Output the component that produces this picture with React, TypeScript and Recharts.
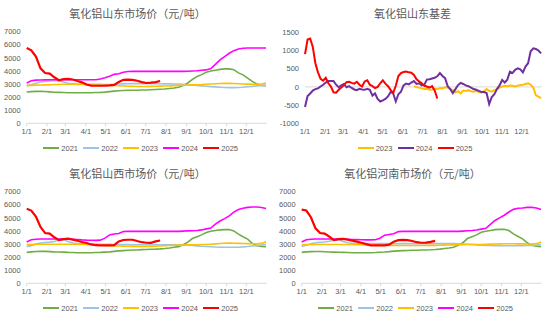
import { LineChart, Line, XAxis, YAxis, ReferenceLine } from 'recharts'

// day-of-year grid (weekly) for the price panels
const priceDays = [
  0, 7, 14, 21, 28, 35, 42, 49, 56, 63, 70, 77, 84, 91, 98, 105, 112, 119, 126, 133,
  140, 147, 154, 161, 168, 175, 182, 189, 196, 203, 210, 217, 224, 231, 238, 245, 252,
  259, 266, 273, 280, 287, 294, 301, 308, 315, 322, 329, 336, 343, 350, 357, 364,
]

// 4-day grid for the basis panel
const basisDays = [
  0, 4, 8, 12, 16, 20, 24, 28, 32, 36, 40, 44, 48, 52, 56, 60, 64, 68, 72, 76, 80, 84, 88,
  92, 96, 100, 104, 108, 112, 116, 120, 124, 128, 132, 136, 140, 144, 148, 152, 156, 160,
  164, 168, 172, 176, 180, 184, 188, 192, 196, 200, 204, 208, 212, 216, 220, 224, 228,
  232, 236, 240, 244, 248, 252, 256, 260, 264, 268, 272, 276, 280, 284, 288, 292, 296,
  300, 304, 308, 312, 316, 320, 324, 328, 332, 336, 340, 344, 348, 352, 356, 360, 364,
]

const monthTicks = [0, 31, 59, 90, 120, 151, 181, 212, 243, 273, 304, 334]
const monthLabels = ['1/1', '2/1', '3/1', '4/1', '5/1', '6/1', '7/1', '8/1', '9/1', '10/1', '11/1', '12/1']

const priceTicks = [0, 1000, 2000, 3000, 4000, 5000, 6000, 7000]
const basisTicks = [-1000, -500, 0, 500, 1000, 1500]

// 山东
const sd2021 = [
  2390, 2420, 2440, 2440, 2430, 2400, 2370, 2360, 2350, 2340,
  2340, 2330, 2330, 2330, 2340, 2350, 2360, 2380, 2420, 2460,
  2490, 2510, 2520, 2530, 2530, 2540, 2540, 2560, 2580, 2600,
  2620, 2660, 2700, 2750, 2880, 3080, 3350, 3580, 3720, 3900,
  4000, 4060, 4120, 4160, 4160, 4100, 3850, 3700, 3450, 3200,
  3000, 2900, 2880,
]
const sd2022 = [
  2880, 2950, 3060, 3150, 3200, 3240, 3260, 3260, 3150, 3060,
  3030, 3000, 2990, 2980, 2980, 2980, 2980, 2970, 2970, 2980,
  3000, 3010, 3020, 3030, 3030, 3030, 3030, 3030, 3020, 3020,
  3010, 3010, 3000, 3000, 2980, 2950, 2920, 2890, 2860, 2830,
  2800, 2780, 2760, 2740, 2730, 2730, 2740, 2760, 2790, 2820,
  2860, 2900, 2900,
]
const sd2023 = [
  2900, 2900, 2920, 2930, 2940, 2950, 2960, 2970, 2980, 2980,
  2980, 2970, 2960, 2950, 2940, 2930, 2920, 2910, 2900, 2890,
  2870, 2850, 2830, 2820, 2810, 2810, 2810, 2820, 2830, 2840,
  2850, 2860, 2880, 2900, 2910, 2930, 2940, 2950, 2960, 2980,
  3000, 3020, 3040, 3050, 3050, 3040, 3020, 3000, 2990, 2980,
  2980, 3000, 3080,
]
const sd2024 = [
  3080, 3250, 3300, 3310, 3320, 3330, 3330, 3330, 3330, 3330,
  3330, 3330, 3330, 3330, 3330, 3330, 3380, 3480, 3600, 3740,
  3780, 3900, 3960, 3970, 3970, 3970, 3970, 3970, 3970, 3970,
  3970, 3970, 3970, 3970, 3970, 3980, 4000, 4020, 4050, 4080,
  4180, 4500, 4850, 5100, 5350, 5550, 5680, 5740, 5750, 5750,
  5750, 5750, 5750,
]
const sd2025 = [
  5750, 5580, 5100, 4200, 3840, 3800, 3520, 3290, 3380, 3400,
  3350, 3230, 3130, 2960, 2880, 2870, 2870, 2880, 2900, 2940,
  3150, 3320, 3330, 3320, 3250, 3150, 3080, 3110, 3150, 3230,
]

// 山西
const sx2021 = [
  2360, 2400, 2430, 2440, 2440, 2420, 2400, 2390, 2380, 2360,
  2350, 2340, 2340, 2340, 2340, 2350, 2360, 2380, 2400, 2440,
  2480, 2500, 2520, 2540, 2550, 2570, 2580, 2600, 2610, 2630,
  2660, 2700, 2750, 2800, 2950, 3150, 3420, 3560, 3700, 3880,
  3980, 4040, 4080, 4100, 4110, 4000, 3760, 3560, 3380, 3060,
  2880, 2820, 2800,
]
const sx2022 = [
  2820, 2880, 3000, 3080, 3120, 3150, 3200, 3300, 3320, 3200,
  3080, 3040, 3020, 3000, 2990, 2990, 2980, 2980, 2980, 2970,
  2970, 2960, 2960, 2950, 2950, 2950, 2950, 2950, 2950, 2950,
  2950, 2950, 2950, 2950, 2940, 2920, 2890, 2860, 2830, 2810,
  2790, 2770, 2760, 2750, 2750, 2750, 2760, 2780, 2810, 2850,
  2880, 2920, 2980,
]
const sx2023 = [
  2960, 2970, 2980, 2980, 2980, 2980, 2980, 2980, 2980, 2980,
  2980, 2980, 2970, 2960, 2950, 2940, 2930, 2900, 2880, 2860,
  2850, 2840, 2830, 2820, 2810, 2810, 2810, 2820, 2830, 2850,
  2870, 2890, 2910, 2920, 2930, 2940, 2950, 2950, 2960, 2970,
  2990, 3010, 3040, 3060, 3070, 3060, 3050, 3040, 3030, 3020,
  3010, 3050, 3180,
]
const sx2024 = [
  3150, 3330, 3370, 3380, 3380, 3380, 3380, 3380, 3380, 3380,
  3370, 3350, 3320, 3300, 3290, 3280, 3300, 3450, 3700, 3770,
  3800, 3960, 3970, 3970, 3970, 3970, 3970, 3970, 3970, 3970,
  3970, 3970, 3970, 3970, 3990, 4010, 4020, 4030, 4080, 4160,
  4220, 4520, 4760, 4940, 5150, 5440, 5640, 5740, 5800, 5830,
  5830, 5790, 5710,
]
const sx2025 = [
  5700, 5560, 5100, 4300, 3840, 3800, 3520, 3300, 3380, 3410,
  3340, 3250, 3160, 3080, 2970, 2910, 2900, 2900, 2900, 2910,
  3200, 3310, 3330, 3330, 3230, 3140, 3100, 3090, 3200, 3270,
]

// 河南
const hn2021 = [
  2360, 2400, 2420, 2430, 2430, 2410, 2390, 2380, 2370, 2360,
  2350, 2340, 2330, 2330, 2330, 2340, 2350, 2370, 2390, 2420,
  2460, 2480, 2500, 2510, 2520, 2530, 2540, 2550, 2560, 2580,
  2610, 2660, 2700, 2760, 2900, 3100, 3420, 3560, 3700, 3900,
  3980, 4040, 4100, 4120, 4130, 4030, 3780, 3580, 3400, 3100,
  2900, 2840, 2800,
]
const hn2022 = [
  2820, 2900, 3020, 3100, 3130, 3160, 3220, 3300, 3320, 3200,
  3100, 3060, 3050, 3040, 3040, 3030, 3030, 3030, 3030, 3030,
  3030, 3030, 3030, 3030, 3030, 3030, 3030, 3030, 3030, 3030,
  3030, 3030, 3030, 3030, 3020, 3000, 2980, 2960, 2940, 2920,
  2900, 2890, 2880, 2870, 2870, 2870, 2870, 2880, 2880, 2890,
  2900, 2930, 2980,
]
const hn2023 = [
  2950, 2960, 2970, 2970, 2970, 2970, 2970, 2970, 2970, 2970,
  2970, 2960, 2950, 2950, 2940, 2940, 2930, 2920, 2910, 2900,
  2900, 2890, 2890, 2890, 2890, 2890, 2890, 2890, 2900, 2900,
  2910, 2920, 2930, 2940, 2950, 2950, 2960, 2960, 2970, 2970,
  2980, 2990, 3000, 3010, 3020, 3020, 3020, 3010, 3010, 3000,
  3000, 3030, 3150,
]
const hn2024 = [
  3150, 3330, 3370, 3380, 3380, 3380, 3380, 3380, 3380, 3380,
  3370, 3350, 3340, 3330, 3320, 3320, 3330, 3450, 3680, 3730,
  3780, 3950, 3970, 3970, 3970, 3970, 3970, 3970, 3970, 3970,
  3970, 3970, 3970, 3970, 3970, 3990, 4010, 4030, 4070, 4140,
  4200, 4500, 4800, 5000, 5200, 5450, 5650, 5730, 5760, 5800,
  5800, 5760, 5640,
]
const hn2025 = [
  5630, 5560, 5050, 4200, 3840, 3800, 3560, 3300, 3370, 3400,
  3340, 3260, 3180, 3100, 2990, 2900, 2900, 2900, 2900, 2950,
  3180, 3300, 3320, 3300, 3230, 3140, 3100, 3110, 3170, 3240,
]

// 山东基差
const basis2023Start = 168
const basis2023 = [
  20, -10, -20, -40, -60, -50, -80, -70, -50, -60,
  -30, -40, -10, -20, -60, -90, -150, -120, -180, -100,
  -110, -90, -120, -130, -110, -140, -160, -120, -60, -110,
  -130, -90, -60, -20, 10, 30, 20, 40, 30, 10,
  30, 50, 60, 80, 100, 60, -20, -230, -270, -310,
]
const basis2024 = [
  -550, -250, -180, -100, -60, -40, 10, 60, 120, 160,
  160, 160, 60, -10, 40, 80, -10, 20, -30, -70,
  -90, -50, -70, -80, -50, -80, -240, -180, -330, -400,
  -370, -330, -260, -140, -180, -400, -200, -130, 40, 90,
  70, 120, 160, 80, 100, 40, 60, 200, 210, 230,
  250, 290, 380, 300, 240, 20, -60, -170, -60, 50,
  110, 80, 40, 20, -20, -60, -80, -110, -140, -140,
  -170, -470, -280, -200, -60, 40, 190, 120, 200, 420,
  380, 470, 510, 480, 400, 560, 650, 980, 1060, 1040,
  1000, 920,
]
const basis2025 = [
  900, 1300, 1330, 1100, 650, 400, 220, 170, 250, 100,
  10, -150, -160, -80, -20, 50, 130, 140, 110, 90,
  140, 60, 10, 150, 180, 60, 20, -30, 0, 100,
  180, 90, 20, -80, -170, 30, 300, 380, 410, 420,
  400, 390, 330, 210, 150, 100, 30, 10, -20, 20,
  -100, -320,
]

const yearColors: Record<string, string> = {
  '2021': '#70AD47',
  '2022': '#9DC3E6',
  '2023': '#FFC000',
  '2024': '#FF00FF',
  '2025': '#FF0000',
}
const basisColors: Record<string, string> = {
  '2023': '#FFC000',
  '2024': '#7030A0',
  '2025': '#FF0000',
}

const W = 275
const H = 160
const textColor = '#595959'
const tickFont = { fontSize: 7.5, fill: textColor, fontFamily: 'Liberation Sans, Arial, sans-serif' }

function buildPriceRows(series: number[][]) {
  return priceDays.map((d, i) => {
    const row: Record<string, number | null> = { day: d }
    series.forEach((s, k) => {
      row['y' + (2021 + k)] = i < s.length ? s[i] : null
    })
    return row
  })
}

const basisRows = basisDays.map((d, i) => ({
  day: d,
  y2023: d >= basis2023Start ? basis2023[(d - basis2023Start) / 4] : null,
  y2024: basis2024[i],
  y2025: i < basis2025.length ? basis2025[i] : null,
}))

function monthLabel(v: number) {
  const idx = monthTicks.indexOf(v)
  return idx >= 0 ? monthLabels[idx] : ''
}

function Title({ text }: { text: string }) {
  return (
    <div
      style={{
        position: 'absolute',
        left: 0,
        top: 5,
        width: W,
        textAlign: 'center',
        fontFamily: '"Noto Sans CJK SC", sans-serif',
        fontSize: 11,
        lineHeight: '16px',
        color: textColor,
      }}
    >
      {text}
    </div>
  )
}

function LegendRow({ items, colors, left }: { items: string[]; colors: Record<string, string>; left: number }) {
  return (
    <>
      {items.map((name, k) => (
        <div
          key={name}
          style={{
            position: 'absolute',
            left: left + k * 40,
            top: 143,
            height: 10,
            display: 'flex',
            alignItems: 'center',
            whiteSpace: 'nowrap',
          }}
        >
          <span style={{ display: 'inline-block', width: 16, height: 2, background: colors[name] }} />
          <span style={{ marginLeft: 2, ...tickFont, color: textColor }}>{name}</span>
        </div>
      ))}
    </>
  )
}

function PricePanel({ title, series, x, y }: { title: string; series: number[][]; x: number; y: number }) {
  const rows = buildPriceRows(series)
  return (
    <div style={{ position: 'absolute', left: x, top: y, width: W, height: H }}>
      <Title text={title} />
      <LineChart width={W} height={H} data={rows} margin={{ top: 31.7, right: 8.3, left: 0, bottom: 22.7 }}>
        <XAxis
          dataKey="day"
          type="number"
          domain={[0, 365]}
          ticks={monthTicks}
          tickFormatter={monthLabel}
          height={14}
          tick={tickFont}
          stroke="#D9D9D9"
          tickSize={3}
          tickMargin={2}
          interval={0}
        />
        <YAxis
          domain={[0, 7000]}
          ticks={priceTicks}
          width={26.7}
          tick={tickFont}
          axisLine={false}
          tickLine={false}
          tickSize={4}
          tickMargin={2}
          interval={0}
        />
        {['2021', '2022', '2023', '2024', '2025'].map((yr) => (
          <Line
            key={yr}
            type="linear"
            dataKey={'y' + yr}
            stroke={yearColors[yr]}
            strokeWidth={yr === '2025' ? 2.2 : 1.6}
            dot={false}
            isAnimationActive={false}
          />
        ))}
      </LineChart>
      <LegendRow items={['2021', '2022', '2023', '2024', '2025']} colors={yearColors} left={43.3} />
    </div>
  )
}

function BasisPanel({ x, y }: { x: number; y: number }) {
  return (
    <div style={{ position: 'absolute', left: x, top: y, width: W, height: H }}>
      <Title text="氧化铝山东基差" />
      <LineChart width={W} height={H} data={basisRows} margin={{ top: 32.3, right: 8.3, left: 0, bottom: 22.7 }}>
        <XAxis
          dataKey="day"
          type="number"
          domain={[0, 365]}
          ticks={monthTicks}
          tickFormatter={monthLabel}
          height={14}
          tick={tickFont}
          axisLine={false}
          tickLine={false}
          tickSize={3}
          tickMargin={2}
          interval={0}
        />
        <YAxis
          domain={[-1000, 1500]}
          ticks={basisTicks}
          width={30}
          tick={tickFont}
          axisLine={false}
          tickLine={false}
          tickSize={4}
          tickMargin={2}
          interval={0}
        />
        <ReferenceLine y={0} stroke="#D9D9D9" strokeWidth={1} />
        {['2023', '2024', '2025'].map((yr) => (
          <Line
            key={yr}
            type="linear"
            dataKey={'y' + yr}
            stroke={basisColors[yr]}
            strokeWidth={2}
            dot={false}
            isAnimationActive={false}
          />
        ))}
      </LineChart>
      <LegendRow items={['2023', '2024', '2025']} colors={basisColors} left={82.7} />
    </div>
  )
}

export default function App() {
  return (
    <div style={{ position: 'absolute', left: 0, top: 0, width: 550, height: 321, background: '#fff' }}>
      <PricePanel title="氧化铝山东市场价（元/吨）" series={[sd2021, sd2022, sd2023, sd2024, sd2025]} x={0} y={0} />
      <BasisPanel x={275} y={0} />
      <PricePanel title="氧化铝山西市场价（元/吨）" series={[sx2021, sx2022, sx2023, sx2024, sx2025]} x={0} y={160} />
      <PricePanel title="氧化铝河南市场价（元/吨）" series={[hn2021, hn2022, hn2023, hn2024, hn2025]} x={275} y={160} />
    </div>
  )
}
